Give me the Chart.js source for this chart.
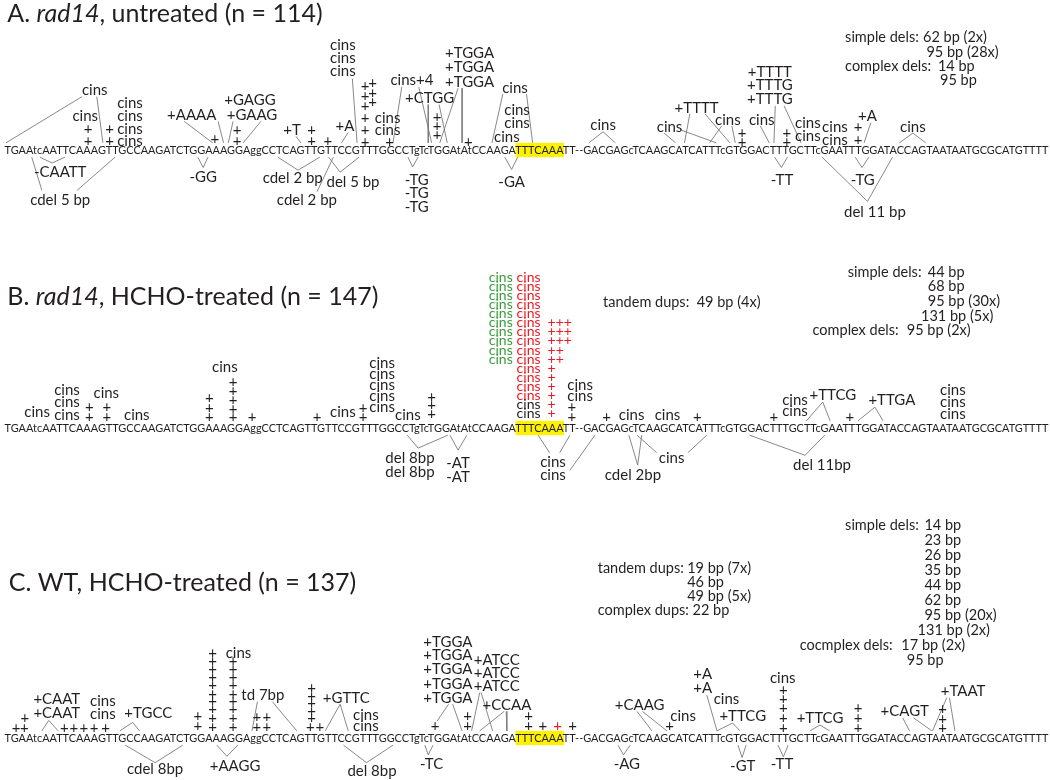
<!DOCTYPE html>
<html>
<head>
<meta charset="utf-8">
<script src="https://cdn.jsdelivr.net/npm/chart.js@4.4.1/dist/chart.umd.min.js"></script>
<style>
  body { margin: 0; background: #fff; }
  .panel { position: absolute; left: 0; width: 1050px; }
</style>
</head>
<body>
<div class="panel" style="top:0"><canvas id="panelA" width="1050" height="240"></canvas></div>
<div class="panel" style="top:240px"><canvas id="panelB" width="1050" height="260"></canvas></div>
<div class="panel" style="top:500px"><canvas id="panelC" width="1050" height="280"></canvas></div>
<script>
// Sequence shown under each panel (x = base index)
const SEQ = 'TGAAtcAATTCAAAGTTGCCAAGATCTGGAAAGGAggCCTCAGTTGTTCCGTTTGGCCTgTcTGGAtAtCCAAGATTTCAAATT--GACGAGcTCAAGCATCATTTcGTGGACTTTGCTTcGAATTTGGATACCAGTAATAATGCGCATGTTTT';
const HIGHLIGHT = [75, 81];   // TTTCAAA

// Labels: [base index, rows above sequence, text, colour?]
const A_LABELS = [
  [12.8, 4.6, 'cins'],
  [11.4, 2.6, 'cins'], [11.8, 1.6, '+'], [11.8, 0.7, '+'],
  [15.0, 1.6, '+'], [15.0, 0.7, '+'],
  [18.0, 3.6, 'cins'], [18.0, 2.6, 'cins'], [18.0, 1.6, 'cins'], [18.0, 0.7, 'cins'],
  [7.7, -1.7, '-CAATT'], [7.7, -3.85, 'cdel 5 bp'],
  [27.1, 2.7, '+AAAA'], [35.7, 3.85, '+GAGG'], [36.0, 2.7, '+GAAG'],
  [30.5, 0.85, '+'], [33.8, 1.55, '+'], [33.8, 0.7, '+'],
  [28.8, -2.1, '-GG'],
  [41.9, 1.55, '+T'], [44.8, 1.55, '+'], [44.8, 0.7, '+'], [47.2, 0.7, '+'],
  [49.7, 1.8, '+A'],
  [49.4, 8.1, 'cins'], [49.4, 7.1, 'cins'], [49.4, 6.05, 'cins'],
  [52.7, 4.9, '+'], [52.7, 4.15, '+'], [52.7, 3.4, '+'], [52.7, 2.45, '+'], [52.7, 1.55, '+'], [52.7, 0.6, '+'],
  [53.8, 5.15, '+'], [53.8, 4.4, '+'], [53.8, 3.65, '+'],
  [56.0, 2.45, 'cins'], [56.0, 1.55, 'cins'], [56.3, 0.6, '+'],
  [59.6, 5.4, 'cins+4'],
  [62.2, 4.0, '+CTGG'],
  [63.3, 2.55, '+'], [63.3, 1.85, '+'], [63.3, 1.15, '+'],
  [68.1, 7.45, '+TGGA'], [68.1, 6.35, '+TGGA'], [68.1, 5.25, '+TGGA'],
  [67.9, 0.6, '+'],
  [74.8, 4.75, 'cins'], [75.1, 3.1, 'cins'], [75.1, 2.1, 'cins'], [73.6, 0.95, 'cins'],
  [60.3, -2.3, '-TG'], [60.3, -3.35, '-TG'], [60.3, -4.4, '-TG'],
  [74.3, -2.45, '-GA'],
  [42.0, -2.15, 'cdel 2 bp'], [44.1, -3.85, 'cdel 2 bp'], [50.9, -2.45, 'del 5 bp'],
  [87.8, 1.9, 'cins'],
  [97.6, 1.75, 'cins'], [101.6, 3.25, '+TTTT'],
  [106.2, 2.3, 'cins'], [108.3, 1.3, '+'], [108.3, 0.6, '+'],
  [111.2, 2.3, 'cins'],
  [112.4, 6.0, '+TTTT'], [112.4, 4.95, '+TTTG'], [112.4, 3.9, '+TTTG'],
  [114.9, 1.3, '+'], [114.9, 0.6, '+'],
  [118.0, 2.1, 'cins'], [118.0, 1.05, 'cins'],
  [122.0, 1.75, 'cins'], [122.0, 0.75, 'cins'], [125.4, 1.75, '+'], [125.4, 0.75, '+'],
  [126.8, 2.6, '+A'],
  [133.5, 1.75, 'cins'],
  [114.2, -2.3, '-TT'], [126.1, -2.3, '-TG'], [127.9, -4.75, 'del 11 bp']
];

// Connector lines: polylines of [base index, rows]
const A_LINES = [
  [[10.9, 4.1], [-0.3, 0.55]], [[13.1, 4.1], [14.0, 0.55]],
  [[4.7, -0.55], [6.5, -1.0], [8.4, -0.55]],
  [[3.5, -0.55], [5.0, -3.1]], [[15.8, -0.55], [10.2, -3.1]],
  [[26.0, 2.2], [30.2, 0.55]], [[31.0, 2.2], [31.8, 0.55]],
  [[33.2, 2.2], [32.5, 0.55]], [[37.3, 2.2], [34.7, 0.55]],
  [[28.0, -0.55], [28.8, -1.35], [29.5, -0.55]],
  [[42.5, 1.05], [43.2, 0.55]],
  [[50.2, 1.35], [49.2, 0.55]],
  [[50.8, 5.5], [51.5, 0.55]],
  [[58.1, 4.85], [56.8, 0.55]], [[60.6, 4.85], [62.5, 0.55]],
  [[62.0, 3.5], [62.0, 0.55]], [[63.6, 3.5], [64.8, 0.55]],
  [[66.4, 4.75], [63.7, 0.55]], [[67.0, 4.75], [67.0, 0.55]],
  [[73.0, 4.3], [71.4, 0.55]], [[76.5, 4.3], [77.4, 0.55]],
  [[59.0, -0.55], [59.7, -1.3], [60.5, -0.55]],
  [[73.3, -0.55], [74.3, -1.5], [75.2, -0.55]],
  [[85.7, 0.55], [87.8, 1.4], [89.6, 0.55]],
  [[99.2, 1.55], [104.5, 0.55]], [[96.8, 1.3], [98.5, 0.55]],
  [[100.6, 2.8], [99.8, 0.55]], [[102.8, 2.8], [106.5, 0.55]],
  [[105.3, 1.85], [103.5, 0.55]], [[106.8, 1.85], [107.3, 0.55]],
  [[111.0, 1.85], [112.3, 0.55]],
  [[113.2, 3.4], [113.0, 0.55]], [[114.5, 3.4], [117.0, 0.55]],
  [[127.3, 2.1], [126.3, 0.55]],
  [[131.5, 0.55], [133.5, 1.3], [135.4, 0.55]],
  [[113.1, -0.55], [114.1, -1.35], [115.0, -0.55]],
  [[125.0, -0.55], [126.0, -1.35], [127.0, -0.55]],
  [[120.1, -0.55], [126.8, -3.95], [130.5, -0.55]],
  [[39.8, -0.55], [42.8, -1.55], [46.0, -0.55]],
  [[48.0, -0.55], [45.6, -3.2]],
  [[47.3, -0.55], [49.0, -1.7], [51.8, -0.55]]
];

// Left-aligned notes: [base index, rows, text]
const A_NOTES = [
  [123.5, 8.7, 'simple dels:'], [135.0, 8.7, '62 bp (2x)'], [135.5, 7.55, '95 bp (28x)'],
  [123.5, 6.4, 'complex dels:'], [137.2, 6.4, '14 bp'], [137.5, 5.35, '95 bp']
];

const GREEN = '#3a9e3a';
const RED = '#ed1c24';

const B_LABELS = [
  [4.3, 1.25, 'cins'],
  [8.7, 2.9, 'cins'], [8.7, 1.95, 'cins'], [8.7, 1.0, 'cins'],
  [12.0, 1.6, '+'], [12.0, 0.8, '+'],
  [14.5, 2.7, 'cins'], [14.6, 1.6, '+'], [14.6, 0.8, '+'],
  [19.0, 1.0, 'cins'],
  [29.7, 2.3, '+'], [29.7, 1.55, '+'], [29.7, 0.8, '+'],
  [32.0, 4.7, 'cins'],
  [33.2, 3.5, '+'], [33.2, 2.85, '+'], [33.2, 2.15, '+'], [33.2, 1.45, '+'], [33.2, 0.8, '+'],
  [36.0, 0.8, '+'], [45.6, 0.8, '+'],
  [49.4, 1.25, 'cins'], [52.4, 1.55, '+'], [52.4, 0.8, '+'],
  [55.2, 5.0, 'cins'], [55.2, 4.15, 'cins'], [55.2, 3.3, 'cins'], [55.2, 2.45, 'cins'], [55.2, 1.6, 'cins'],
  [59.0, 1.0, 'cins'],
  [62.5, 2.4, '+'], [62.5, 1.75, '+'], [62.5, 1.05, '+'],
  [84.4, 3.3, 'cins'], [84.4, 2.45, 'cins'],
  [83.2, 1.6, '+'], [83.2, 0.8, '+'],
  [88.3, 0.8, '+'], [92.0, 1.0, 'cins'], [97.3, 1.0, 'cins'], [101.7, 0.8, '+'],
  [113.0, 0.8, '+'],
  [116.1, 2.15, 'cins'], [116.1, 1.3, 'cins'],
  [121.7, 2.55, '+TTCG'], [124.2, 0.8, '+'], [130.4, 2.15, '+TTGA'],
  [139.4, 2.9, 'cins'], [139.4, 2.0, 'cins'], [139.4, 1.1, 'cins'],
  [59.3, -2.3, 'del 8bp'], [59.3, -3.4, 'del 8bp'],
  [66.4, -2.7, '-AT'], [66.4, -3.75, '-AT'],
  [80.4, -2.6, 'cins'], [80.4, -3.6, 'cins'],
  [92.2, -3.6, 'cdel 2bp'], [97.9, -2.3, 'cins'],
  [120.1, -2.85, 'del 11bp']
];

// Tightly stacked insertions over the hotspot (rows 0.7 apart)
const B_STACK = [
  [72.7, 11.6, 'cins', GREEN], [72.7, 10.9, 'cins', GREEN], [72.7, 10.2, 'cins', GREEN],
  [72.7, 9.5, 'cins', GREEN], [72.7, 8.8, 'cins', GREEN], [72.7, 8.1, 'cins', GREEN],
  [72.7, 7.4, 'cins', GREEN], [72.7, 6.7, 'cins', GREEN], [72.7, 6.0, 'cins', GREEN],
  [72.7, 5.3, 'cins', GREEN],
  [76.8, 11.6, 'cins', RED], [76.8, 10.9, 'cins', RED], [76.8, 10.2, 'cins', RED],
  [76.8, 9.5, 'cins', RED], [76.8, 8.8, 'cins', RED], [76.8, 8.1, 'cins', RED],
  [76.8, 7.4, 'cins', RED], [76.8, 6.7, 'cins', RED], [76.8, 6.0, 'cins', RED],
  [76.8, 5.3, 'cins', RED], [76.8, 4.6, 'cins', RED], [76.8, 3.9, 'cins', RED],
  [76.8, 3.2, 'cins', RED], [76.8, 2.5, 'cins', RED],
  [76.8, 1.8, 'cins'], [76.8, 1.1, 'cins'],
  [80.2, 8.1, '+', RED], [81.4, 8.1, '+', RED], [82.6, 8.1, '+', RED],
  [80.2, 7.4, '+', RED], [81.4, 7.4, '+', RED], [82.6, 7.4, '+', RED],
  [80.2, 6.7, '+', RED], [81.4, 6.7, '+', RED], [82.6, 6.7, '+', RED],
  [80.2, 6.0, '+', RED], [81.4, 6.0, '+', RED],
  [80.2, 5.3, '+', RED], [81.4, 5.3, '+', RED],
  [80.2, 4.6, '+', RED], [80.2, 3.9, '+', RED], [80.2, 3.2, '+', RED],
  [80.2, 2.5, '+', RED], [80.2, 1.8, '+', RED], [80.2, 1.1, '+', RED]
];

const B_LINES = [
  [[58.9, -0.55], [60.5, -1.55], [64.9, -0.55]],
  [[65.2, -0.55], [66.4, -1.7], [67.7, -0.55]],
  [[78.2, -0.55], [79.9, -1.9]], [[82.9, -0.55], [81.4, -1.9]],
  [[82.9, -3.25], [86.6, -0.55]],
  [[91.6, -0.55], [92.9, -2.85], [93.5, -0.55]],
  [[92.8, -0.55], [95.7, -1.9]], [[103.1, -0.55], [100.3, -1.9]],
  [[117.8, 0.55], [120.2, 2.0], [121.3, 0.55]],
  [[125.4, 0.55], [127.9, 1.6], [129.1, 0.55]],
  [[109.4, -0.55], [117.6, -2.1], [120.5, -0.55]]
];

const B_NOTES = [
  [87.8, 9.7, 'tandem dups:'], [101.6, 9.7, '49 bp (4x)'],
  [123.9, 12.0, 'simple dels:'], [135.7, 12.0, '44 bp'], [135.7, 10.9, '68 bp'],
  [135.7, 9.75, '95 bp (30x)'], [134.7, 8.6, '131 bp (5x)'],
  [118.7, 7.55, 'complex dels:'], [132.6, 7.55, '95 bp (2x)']
];

const C_LABELS = [
  [1.2, 0.75, '+'], [2.4, 0.75, '+'], [2.5, 1.55, '+'],
  [7.2, 3.0, '+CAAT'], [7.2, 1.9, '+CAAT'],
  [14.0, 2.8, 'cins'], [14.0, 1.8, 'cins'],
  [8.3, 0.75, '+'], [9.7, 0.75, '+'], [11.2, 0.75, '+'], [12.7, 0.75, '+'], [14.4, 0.75, '+'],
  [20.7, 1.9, '+TGCC'],
  [28.0, 1.65, '+'], [28.0, 0.9, '+'],
  [30.2, 6.5, '+'], [30.2, 5.9, '+'], [30.2, 5.3, '+'], [30.2, 4.7, '+'], [30.2, 4.1, '+'],
  [30.2, 3.4, '+'], [30.2, 2.8, '+'], [30.2, 2.2, '+'], [30.2, 1.5, '+'], [30.2, 0.85, '+'],
  [34.0, 6.5, 'cins'],
  [33.2, 5.9, '+'], [33.2, 5.3, '+'], [33.2, 4.7, '+'], [33.2, 4.1, '+'], [33.2, 3.4, '+'],
  [33.2, 2.8, '+'], [33.2, 2.2, '+'], [33.2, 1.5, '+'], [33.2, 0.85, '+'],
  [37.6, 3.3, 'td 7bp'],
  [36.7, 1.6, '+'], [38.2, 1.6, '+'], [36.7, 0.85, '+'], [38.2, 0.85, '+'],
  [44.8, 3.85, '+'], [44.8, 3.25, '+'], [44.8, 2.7, '+'], [44.8, 2.1, '+'], [44.8, 1.55, '+'],
  [44.6, 0.85, '+'], [46.0, 0.85, '+'],
  [49.9, 3.1, '+GTTC'],
  [52.8, 1.75, 'cins'], [52.8, 0.9, 'cins'],
  [63.0, 0.9, '+'],
  [64.9, 7.4, '+TGGA'], [64.9, 6.35, '+TGGA'], [64.9, 5.3, '+TGGA'], [64.9, 4.15, '+TGGA'], [64.9, 3.1, '+TGGA'],
  [67.8, 1.65, '+'], [67.8, 0.9, '+'],
  [72.1, 6.0, '+ATCC'], [72.1, 4.95, '+ATCC'], [72.1, 3.95, '+ATCC'],
  [73.6, 2.55, '+CCAA'],
  [76.8, 1.65, '+'], [76.8, 0.9, '+'], [78.9, 0.9, '+'], [81.1, 0.9, '+', RED], [83.3, 0.9, '+'],
  [93.2, 2.55, '+CAAG'], [97.6, 0.9, '+'], [99.6, 1.65, 'cins'],
  [102.5, 4.9, '+A'], [102.5, 3.85, '+A'],
  [106.0, 2.95, 'cins'], [108.4, 1.65, '+TTCG'],
  [114.3, 4.6, 'cins'],
  [114.4, 3.7, '+'], [114.4, 3.0, '+'], [114.4, 2.3, '+'], [114.4, 1.55, '+'], [114.4, 0.75, '+'],
  [119.8, 1.55, '+TTCG'],
  [125.4, 2.3, '+'], [125.4, 1.55, '+'], [125.4, 0.75, '+'],
  [132.3, 2.05, '+CAGT'], [140.9, 3.6, '+TAAT'],
  [137.9, 2.2, '+'], [137.9, 1.45, '+'], [137.9, 0.75, '+'],
  [21.7, -2.4, 'cdel 8bp'], [33.5, -2.2, '+AAGG'], [53.7, -2.55, 'del 8bp'],
  [62.5, -2.05, '-TC'], [91.3, -2.05, '-AG'], [108.4, -2.2, '-GT'], [114.2, -2.05, '-TT']
];

const C_LINES = [
  [[5.0, 0.55], [6.0, 1.35], [7.4, 0.55]],
  [[16.5, 0.55], [18.4, 1.2], [19.4, 0.55]],
  [[36.8, 2.8], [36.0, 0.55]], [[39.0, 2.8], [42.6, 0.55]],
  [[46.8, 0.55], [49.0, 2.6], [50.2, 0.55]],
  [[65.0, 2.6], [63.3, 1.3]], [[65.6, 2.6], [67.0, 0.55]],
  [[69.6, 3.5], [68.4, 0.55]], [[69.8, 3.5], [71.5, 0.55]],
  [[73.2, 2.05], [69.6, 0.55]], [[73.5, 2.05], [73.6, 0.55]],
  [[61.5, -0.55], [62.0, -1.3], [62.7, -0.55]],
  [[17.3, -0.55], [21.7, -1.9], [25.8, -0.55]],
  [[30.8, -0.55], [32.3, -1.4], [33.9, -0.55]],
  [[49.5, -0.55], [52.9, -1.9], [56.8, -0.55]],
  [[90.0, -0.55], [90.8, -1.3], [91.8, -0.55]],
  [[92.8, 2.05], [95.0, 0.55]], [[93.6, 2.05], [97.2, 0.55]],
  [[103.1, 3.3], [104.6, 0.55]],
  [[104.6, 0.55], [106.9, 1.15], [108.0, 0.55]],
  [[118.3, 0.55], [119.8, 1.0], [121.2, 0.55]],
  [[132.0, 1.55], [133.0, 0.55]], [[133.6, 1.55], [136.3, 0.55]],
  [[138.5, 3.1], [136.4, 0.55]], [[138.9, 3.1], [139.7, 0.55]],
  [[107.7, -0.55], [108.3, -1.5], [108.9, -0.55]],
  [[113.6, -0.55], [114.4, -1.45], [115.1, -0.55]]
];

const C_NOTES = [
  [87.0, 13.08, 'tandem dups:'], [100.2, 13.08, '19 bp (7x)'], [100.2, 12.0, '46 bp'],
  [100.2, 10.92, '49 bp (5x)'], [87.0, 9.85, 'complex dups:'], [101.0, 9.85, '22 bp'],
  [123.5, 16.38, 'simple dels:'], [135.2, 16.38, '14 bp'], [135.2, 15.23, '23 bp'],
  [135.2, 14.08, '26 bp'], [135.2, 12.92, '35 bp'], [135.2, 11.77, '44 bp'],
  [135.2, 10.62, '62 bp'], [135.2, 9.46, '95 bp (20x)'], [134.2, 8.31, '131 bp (2x)'],
  [116.8, 7.15, 'cocmplex dels:'], [131.8, 7.15, '17 bp (2x)'], [132.6, 6.0, '95 bp']
];

const A_TITLE = [[-0.1, 10.5], ['A. ', ''], ['rad14', 'italic '], [', untreated (n = 114)', '']];
const B_TITLE = [[-0.1, 10.08], ['B. ', ''], ['rad14', 'italic '], [', HCHO-treated (n = 147)', '']];
const C_TITLE = [[0.1, 11.92], ['C. WT, HCHO-treated (n = 137)', '']];

// x axis: base index -> pixels (first base at ~8px, last at ~1045px)
const X_MIN = -1.18, X_MAX = 153.73;
const ROW = 13; // px per row
const INK = '#231f20';
const LINE_COLOR = '#7a7a7a';
const FONT = 'Lato, "Open Sans", sans-serif';

function annotationPlugin(p) {
  // sequence is set as one proportional string stretched over bases -0.5 .. 153.5
  function seqLayout(chart) {
    const { ctx, scales: { x } } = chart;
    ctx.font = '11px ' + FONT;
    const left = x.getPixelForValue(-0.5);
    const right = x.getPixelForValue(SEQ.length - 0.5);
    const sx = (right - left) / ctx.measureText(SEQ).width;
    return { left, sx };
  }
  return {
    id: 'mutAnnotations',
    beforeDatasetsDraw(chart) {
      const { ctx, scales: { y } } = chart;
      const { left, sx } = seqLayout(chart);
      const x0 = left + ctx.measureText(SEQ.slice(0, HIGHLIGHT[0])).width * sx;
      const x1 = left + ctx.measureText(SEQ.slice(0, HIGHLIGHT[1] + 1)).width * sx;
      const y0 = y.getPixelForValue(0.55);
      const y1 = y.getPixelForValue(-0.55);
      ctx.save();
      ctx.fillStyle = '#fff200';
      ctx.fillRect(x0 - 0.5, y0, x1 - x0 + 1, y1 - y0);
      ctx.restore();
    },
    afterDatasetsDraw(chart) {
      const { ctx, scales: { x, y } } = chart;
      ctx.save();
      ctx.textBaseline = 'middle';
      ctx.fillStyle = INK;

      // sequence
      const { left, sx } = seqLayout(chart);
      ctx.save();
      ctx.translate(left, y.getPixelForValue(0));
      ctx.scale(sx, 1);
      ctx.textAlign = 'left';
      ctx.fillText(SEQ, 0, 0);
      ctx.restore();

      // mutation labels
      ctx.textAlign = 'center';
      ctx.font = '15px ' + FONT;
      p.labels.forEach(([lx, ly, text, color]) => {
        ctx.fillStyle = color || INK;
        ctx.fillText(text, x.getPixelForValue(lx), y.getPixelForValue(ly));
      });
      if (p.stack) {
        ctx.font = '14px ' + FONT;
        p.stack.forEach(([lx, ly, text, color]) => {
          ctx.fillStyle = color || INK;
          ctx.fillText(text, x.getPixelForValue(lx), y.getPixelForValue(ly));
        });
      }

      // summary notes
      ctx.textAlign = 'left';
      ctx.fillStyle = INK;
      ctx.font = '14.5px ' + FONT;
      p.notes.forEach(([lx, ly, text]) => {
        ctx.fillText(text, x.getPixelForValue(lx), y.getPixelForValue(ly));
      });

      // panel title, with italic gene name
      const [[tx, ty], ...parts] = p.title;
      let px = x.getPixelForValue(tx);
      const py = y.getPixelForValue(ty);
      parts.forEach(([text, style]) => {
        ctx.font = style + '25px ' + FONT;
        ctx.fillText(text, px, py);
        px += ctx.measureText(text).width;
      });
      ctx.restore();
    }
  };
}

function drawPanel(canvasId, p) {
  const canvas = document.getElementById(canvasId);
  const yMax = p.base / ROW;
  const yMin = -(canvas.height - p.base) / ROW;
  const datasets = p.lines.map(pts => ({
    data: pts.map(([px, py]) => ({ x: px, y: py })),
    showLine: true,
    borderColor: LINE_COLOR,
    borderWidth: 0.9,
    pointRadius: 0,
    tension: 0
  }));
  new Chart(canvas, {
    type: 'scatter',
    data: { datasets },
    options: {
      responsive: false,
      animation: false,
      events: [],
      layout: { padding: 0 },
      scales: {
        x: { type: 'linear', min: X_MIN, max: X_MAX, display: false },
        y: { type: 'linear', min: yMin, max: yMax, display: false }
      },
      plugins: { legend: { display: false }, tooltip: { enabled: false } }
    },
    plugins: [annotationPlugin(p)]
  });
}

drawPanel('panelA', { base: 150, labels: A_LABELS, lines: A_LINES, notes: A_NOTES, title: A_TITLE });
drawPanel('panelB', { base: 188, labels: B_LABELS, stack: B_STACK, lines: B_LINES, notes: B_NOTES, title: B_TITLE });
drawPanel('panelC', { base: 238, labels: C_LABELS, lines: C_LINES, notes: C_NOTES, title: C_TITLE });
</script>
</body>
</html>
